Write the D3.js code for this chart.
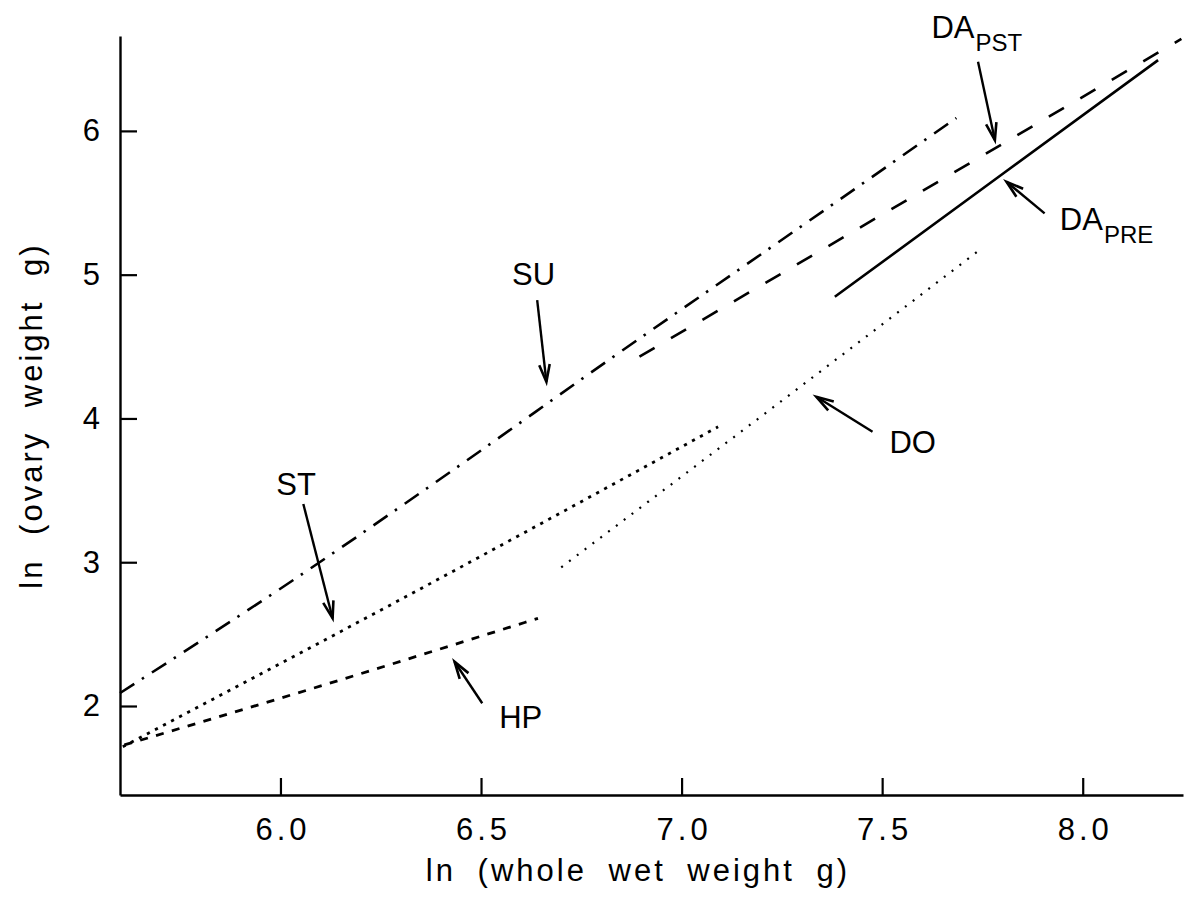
<!DOCTYPE html>
<html><head><meta charset="utf-8">
<script src="https://cdn.jsdelivr.net/npm/d3@7"></script>
<style>
html,body{margin:0;padding:0;background:#fff;}
svg text{font-family:"Liberation Sans",Arial,sans-serif;fill:#000;}
</style></head><body>
<svg id="chart" width="1192" height="921"></svg>
<script>
// Axis ticks
const xTicks = [6.0, 6.5, 7.0, 7.5, 8.0];
const yTicks = [2, 3, 4, 5, 6];

// Fitted ln(ovary weight) vs ln(whole wet weight) relationships, [x, y]
const suLine    = [[5.60, 2.09], [6.05, 2.91], [6.44, 3.66], [6.81, 4.39], [7.29, 5.32], [7.685, 6.09]];
const daPstLine = [[6.895, 4.43], [7.44, 5.32], [8.246, 6.64]];
const daPreLine = [[7.382, 4.846], [7.80, 5.70], [8.188, 6.492]];
const doLine    = [[6.70, 2.965], [7.34, 4.314], [7.75, 5.187]];
const stLine    = [[5.607, 1.717], [6.305, 2.749], [7.091, 3.942]];
const hpLine    = [[5.611, 1.729], [6.122, 2.158], [6.642, 2.610]];

// Group names
const labelNames = ["SU", "ST", "HP", "DO", "DA", "DA"];
const labelSubs  = ["", "", "", "", "PST", "PRE"];

const svg = d3.select("#chart");
const margin = {left: 120, right: 1183, top: 36, bottom: 795};

const x = d3.scaleLinear().domain([5.6, 8.25]).range([margin.left, margin.right]);
const y = d3.scaleLinear().domain([1.381, 6.66]).range([margin.bottom, margin.top]);

// Axes with inward ticks
const xAxis = d3.axisBottom(x).tickValues(xTicks).tickFormat(d3.format(".1f"))
  .tickSizeInner(-17).tickSizeOuter(0).tickPadding(23);
const yAxis = d3.axisLeft(y).tickValues(yTicks).tickFormat(d3.format("d"))
  .tickSizeInner(-17).tickSizeOuter(0).tickPadding(20);

const gx = svg.append("g").attr("transform", `translate(0,${margin.bottom})`).call(xAxis);
const gy = svg.append("g").attr("transform", `translate(${margin.left},0)`).call(yAxis);
[gx, gy].forEach(g => {
  g.select(".domain").attr("stroke", "#000").attr("stroke-width", 2.4);
  g.selectAll(".tick line").attr("stroke", "#000").attr("stroke-width", 2.2);
  g.selectAll(".tick text").attr("font-family", '"Liberation Sans",Arial,sans-serif')
    .attr("font-size", 31).attr("fill", "#000");
});
gx.selectAll(".tick text").style("letter-spacing", "4px").attr("dx", "2px");

// Axis titles
svg.append("text")
  .attr("x", 638).attr("y", 881)
  .attr("text-anchor", "middle").attr("font-size", 31)
  .style("letter-spacing", "3px").style("word-spacing", "10px")
  .text("ln (whole wet weight g)");
svg.append("text")
  .attr("transform", `translate(42,${(margin.top + margin.bottom) / 2}) rotate(-90)`)
  .attr("text-anchor", "middle").attr("font-size", 31)
  .style("letter-spacing", "3px").style("word-spacing", "12px")
  .text("ln (ovary weight g)");

// Regression lines
const line = d3.line().x(d => x(d[0])).y(d => y(d[1])).curve(d3.curveMonotoneX);
const series = [
  {data: suLine,    dash: "17 9 2.5 9.5", width: 2.6},
  {data: daPstLine, dash: "17.5 19",      width: 2.6},
  {data: daPreLine, dash: null,           width: 2.6},
  {data: doLine,    dash: "2 7.8",        width: 2.2},
  {data: stLine,    dash: "3.2 5.9",      width: 2.8},
  {data: hpLine,    dash: "8 8.5",        width: 2.8}
];
series.forEach(s => {
  svg.append("path").attr("d", line(s.data)).attr("fill", "none")
    .attr("stroke", "#000").attr("stroke-width", s.width)
    .attr("stroke-dasharray", s.dash);
});

// Labels and pointer arrows (data coordinates)
const labelPos = [[6.631, 4.928], [6.039, 3.467], [6.599, 1.847], [7.576, 3.759], [7.623, 6.643], [7.943, 5.310]];
const labelAnchor = ["middle", "middle", "middle", "middle", "start", "start"];
const arrowTail = [[6.640, 4.823], [6.057, 3.405], [6.503, 2.019], [7.476, 3.907], [7.739, 6.481], [7.905, 5.426]];
const arrowTip  = [[6.663, 4.255], [6.130, 2.610], [6.434, 2.308], [7.336, 4.151], [7.781, 5.936], [7.810, 5.646]];

labelNames.forEach((name, i) => {
  const t = svg.append("text")
    .attr("x", x(labelPos[i][0])).attr("y", y(labelPos[i][1]))
    .attr("text-anchor", labelAnchor[i]).attr("font-size", 31)
    .text(name);
  if (labelSubs[i]) {
    t.append("tspan").attr("font-size", 24).attr("dy", 13).attr("dx", 1).text(labelSubs[i]);
  }
});

function arrow(tail, tip) {
  const x0 = x(tail[0]), y0 = y(tail[1]), x1 = x(tip[0]), y1 = y(tip[1]);
  const ang = Math.atan2(y1 - y0, x1 - x0);
  const L = 18, a = 17 * Math.PI / 180;
  const p1 = [x1 - L * Math.cos(ang - a), y1 - L * Math.sin(ang - a)];
  const p2 = [x1 - L * Math.cos(ang + a), y1 - L * Math.sin(ang + a)];
  svg.append("line").attr("x1", x0).attr("y1", y0).attr("x2", x1).attr("y2", y1)
    .attr("stroke", "#000").attr("stroke-width", 2.4);
  svg.append("path")
    .attr("d", `M${p1[0]},${p1[1]}L${x1},${y1}L${p2[0]},${p2[1]}`)
    .attr("fill", "none").attr("stroke", "#000").attr("stroke-width", 2.6)
    .attr("stroke-linejoin", "miter");
}
arrowTail.forEach((t, i) => arrow(t, arrowTip[i]));
</script>
</body></html>
